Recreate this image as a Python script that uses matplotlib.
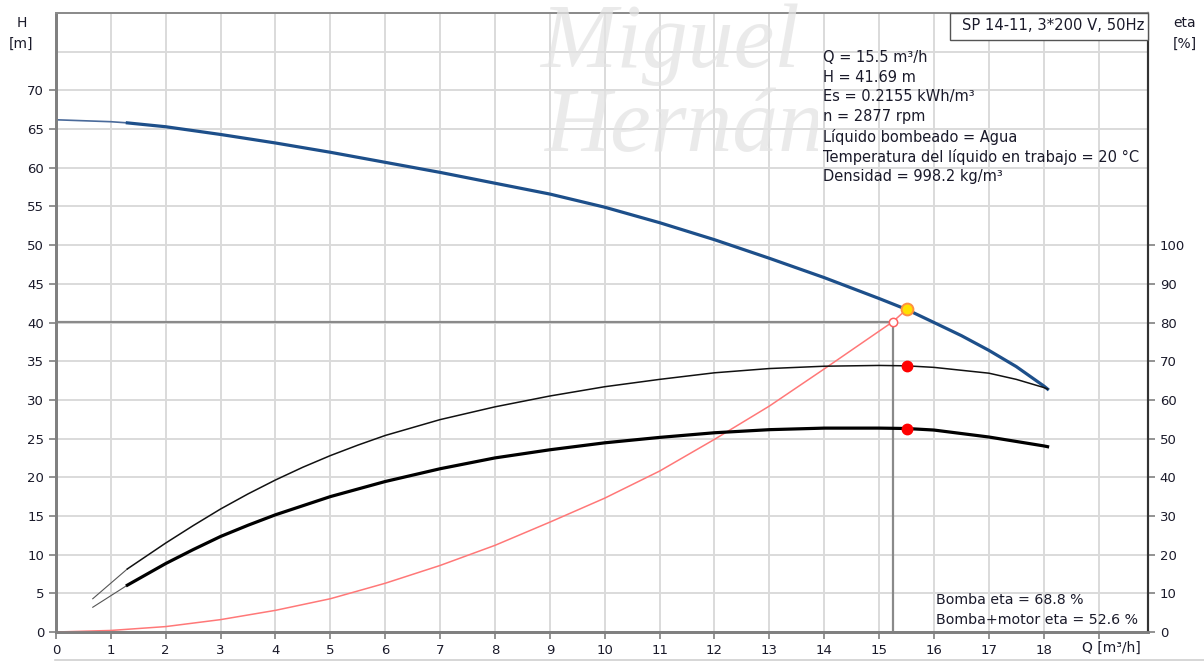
#!/usr/bin/env python3
""" Pump curve chart: head, efficiency and system curve for SP 14-11. """

import matplotlib
matplotlib.use('Agg')
import matplotlib.pyplot as plt
from matplotlib.patches import Rectangle
from matplotlib.transforms import Bbox

# Head curve H(Q) [m]
q_head = [0.0, 1.0, 1.3, 2, 3, 4, 5, 6, 7, 8, 9, 10, 11, 12, 13, 14, 15,
          15.5, 16, 16.5, 17, 17.5, 18, 18.07]
h_head = [66.2, 65.95, 65.8, 65.3, 64.3, 63.2, 62.0, 60.7, 59.4, 58.0,
          56.6, 54.9, 52.9, 50.7, 48.3, 45.8, 43.1, 41.69, 40.0, 38.3,
          36.4, 34.3, 31.8, 31.4]

# Pump efficiency [%]
q_eta = [0.67, 1.3, 2, 2.5, 3, 3.5, 4, 4.5, 5, 5.5, 6, 7, 8, 9, 10, 11,
         12, 13, 14, 15, 15.5, 16, 17, 17.5, 18, 18.07]
eta_pump = [8.6, 16.3, 23.0, 27.5, 31.8, 35.7, 39.3, 42.6, 45.6, 48.3,
            50.8, 54.9, 58.2, 61.0, 63.4, 65.3, 67.0, 68.1, 68.7, 68.9,
            68.8, 68.4, 66.9, 65.3, 63.2, 62.8]

# Pump + motor efficiency [%]
q_tot = [0.67, 1.3, 2, 2.5, 3, 3.5, 4, 5, 6, 7, 8, 9, 10, 11, 12, 13, 14,
         15, 15.5, 16, 17, 18, 18.07]
eta_tot = [6.4, 12.1, 17.7, 21.3, 24.7, 27.6, 30.3, 35.0, 38.9, 42.2,
           45.0, 47.1, 48.9, 50.3, 51.5, 52.3, 52.7, 52.7, 52.6, 52.2,
           50.4, 48.1, 47.9]

# System curve [m]
q_sys = [0.0, 1, 2, 3, 4, 5, 6, 7, 8, 9, 10, 11, 12, 13, 14, 15.25, 15.5]
h_sys = [0.0, 0.2, 0.7, 1.6, 2.8, 4.3, 6.3, 8.6, 11.2, 14.2, 17.3, 20.8,
         24.9, 29.2, 34.0, 40.1, 41.69]

# Operating points
duty_q, duty_h = 15.5, 41.69
req_q, req_h = 15.25, 40.1
duty_eta = [68.8, 52.6]

x_ticks = list(range(0, 20))
x_labels = [str(v) for v in range(0, 19)] + ['']
h_ticks = list(range(0, 75, 5))
eta_ticks = list(range(0, 110, 10))

title = 'SP 14-11, 3*200 V, 50Hz'
info_lines = ['Q = 15.5 m³/h', 'H = 41.69 m', 'Es = 0.2155 kWh/m³',
              'n = 2877 rpm', 'Líquido bombeado = Agua',
              'Temperatura del líquido en trabajo = 20 °C',
              'Densidad = 998.2 kg/m³']
eta_lines = ['Bomba eta = 68.8 %', 'Bomba+motor eta = 52.6 %']

plt.rcParams['font.family'] = ['DejaVu Sans']
txt = '#1a1a2a'
grid_c = '#dadada'
W, H = 1204, 661


def fx(px):
    return px / W


def fy(py):
    return 1 - py / H


fig = plt.figure(figsize=(12.04, 6.61), dpi=100)
ax = fig.add_axes([fx(56), fy(632), (1148 - 56) / W, (632 - 13) / H])
ax2 = ax.twinx()

ax.set_xlim(0, 19.9)
ax.set_ylim(0, 80)
ax2.set_ylim(0, 160)

# Grid and ticks
ax.set_xticks(x_ticks)
ax.set_xticklabels(x_labels)
ax.set_yticks(h_ticks)
ax.set_yticks([75, 80], minor=True)
ax.grid(True, which='both', color=grid_c, linewidth=1.4)
ax.set_axisbelow(True)
ax2.set_yticks(eta_ticks)

for a in (ax, ax2):
    a.tick_params(colors='#808080', labelcolor=txt, labelsize=9.5,
                  length=5, width=1.2)
    a.tick_params(axis='y', which='minor', length=0)
    a.spines['left'].set_color('#808080')
    a.spines['left'].set_linewidth(2)
    a.spines['bottom'].set_color('#808080')
    a.spines['bottom'].set_linewidth(2)
    a.spines['top'].set_color('#8c8c8c')
    a.spines['top'].set_linewidth(1.4)
    a.spines['right'].set_color('#333333')
    a.spines['right'].set_linewidth(1.5)

# Watermark (clipped before the info block)
clip = Bbox.from_extents(0, 0, 818, H)
for word, x0, y0 in (('Miguel', 540, 4), ('Hernández', 545, 88)):
    t = fig.text(fx(x0), fy(y0), word, fontsize=66, family='Liberation Serif',
                 style='italic', color='#e4e4e4', alpha=0.75,
                 ha='left', va='top', zorder=2)
    t.set_clip_box(clip)
    t.set_clip_on(True)

# Guide lines to the required point
ax.plot([0, req_q], [req_h, req_h], color='#8a8a8a', linewidth=1.6, zorder=3)
ax.plot([req_q, req_q], [req_h, 0], color='#8a8a8a', linewidth=1.6, zorder=3)

# System curve
ax.plot(q_sys, h_sys, color='#ff7878', linewidth=1.1, zorder=4)

# Head curve
ax.plot(q_head[:3], h_head[:3], color='#4a6a9a', linewidth=1.2, zorder=5)
ax.plot(q_head[2:], h_head[2:], color='#1d4f8a', linewidth=2.3, zorder=5)

# Efficiency curves
ax2.plot(q_eta[:2], eta_pump[:2], color='#555555', linewidth=0.8, zorder=5)
ax2.plot(q_eta[1:], eta_pump[1:], color='#111111', linewidth=1.1, zorder=5)
ax2.plot(q_tot[:2], eta_tot[:2], color='#555555', linewidth=0.8, zorder=5)
ax2.plot(q_tot[1:], eta_tot[1:], color='#000000', linewidth=2.3, zorder=5)

# Points
ax.plot(req_q, req_h, 'o', markersize=6, markerfacecolor='white',
        markeredgecolor='#ff6060', markeredgewidth=1.1, zorder=6)
ax.plot(duty_q, duty_h, 'o', markersize=8.5, markerfacecolor='#ffe000',
        markeredgecolor='#ff9040', markeredgewidth=1.4, zorder=7)
ax2.plot([duty_q] * len(duty_eta), duty_eta, 'o', markersize=7.5,
         color='#ff0000', zorder=7)

# Info texts
for i, line in enumerate(info_lines):
    fig.text(fx(823), fy(57 + 20 * i), line, fontsize=10.5,
             color=txt, va='center', ha='left')

fig.patches.append(Rectangle((fx(950), fy(40)), (1148 - 950) / W, 27 / H,
                             transform=fig.transFigure, facecolor='white',
                             edgecolor='#555555', linewidth=1.0, zorder=8))
fig.text(fx(1144), fy(26), title, fontsize=10.6, color=txt,
         va='center', ha='right', zorder=9)

for i, line in enumerate(eta_lines):
    fig.text(fx(936), fy(600 + 20 * i), line, fontsize=10.2,
             color=txt, va='center', ha='left')

# Axis captions
fig.text(fx(22), fy(23), 'H', fontsize=10, color=txt,
         ha='center', va='center')
fig.text(fx(21), fy(44), '[m]', fontsize=10, color=txt,
         ha='center', va='center')
fig.text(fx(1185), fy(23), 'eta', fontsize=10, color=txt,
         ha='center', va='center')
fig.text(fx(1185), fy(44), '[%]', fontsize=10, color=txt,
         ha='center', va='center')
fig.text(fx(1111), fy(648), 'Q [m³/h]', fontsize=10, color=txt,
         ha='center', va='center')

# Thin rule under the chart
fig.add_artist(plt.Line2D([fx(55), 1], [fy(659.5), fy(659.5)],
                          color='#d0d0d0', linewidth=1.2))

fig.savefig('out.png', dpi=100)
